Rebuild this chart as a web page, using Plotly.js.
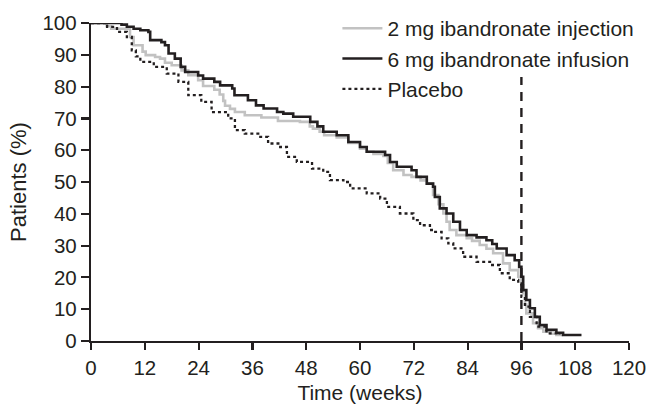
<!DOCTYPE html>
<html>
<head>
<meta charset="utf-8">
<script src="https://cdn.plot.ly/plotly-3.0.1.min.js"></script>
<style>html,body{margin:0;padding:0;background:#fff;}#chart{width:647px;height:407px;}</style>
</head>
<body>
<div id="chart"></div>
<script>
// ---- Data ----
const seriesNames = ["2 mg ibandronate injection", "6 mg ibandronate infusion", "Placebo"];

const weeks2mg = [0,3.5,4.5,8.7,9.5,11.5,12.2,14.3,15.4,16.5,18,20.2,21.7,23.9,25,27.5,28.7,29.5,29.9,31,32.1,34.3,38,41.7,46.6,48.8,49.5,51,52,54.8,57.4,60,61.5,63,65.2,66.2,67.4,69.7,71.5,73.5,74.9,76.3,77.5,78.6,79.3,80,81.5,83.8,85,86.7,88.2,89.7,91.9,93.4,95.3,96,96.4,96.8,97.1,98.6,99.7,100.9,102.5,103.8,105.3];
const pct2mg   = [100,99,98.2,95.6,93,91,89.9,89.3,88.8,87.5,86.7,85.1,83.6,82,80.2,79,77.5,75.5,74,73,72,71,70.3,69.2,68.9,67.5,66.8,65.8,64.7,64,62.3,60.5,59.5,58.8,58.2,56,53.7,52.2,51.6,50.5,49.5,45.9,43,40.1,37.5,34.9,33.3,32.3,31.5,30.2,29,27.6,24.4,22.3,20.2,17.5,15,11.5,8.7,5.6,4,2.9,2.3,1.9,1.9];

const weeks6mg = [0,6.8,8,9.5,11,12.8,13.2,15.7,16.5,17.3,18.7,20,21,23.9,25,27.5,28.8,31.5,32,35,36.8,38.5,41.5,42.9,45.1,48.9,50.5,51.8,54.8,57.4,60,61.5,65.6,66.7,68.2,71.5,72.6,74.9,76.3,76.7,77.8,79.3,80.8,82.3,83.8,86,88.2,89.5,90.5,92.7,94.5,95.5,96,96.4,97.1,97.9,99,100.1,101.6,103.8,105.3,109.4];
const pct6mg   = [100,99.5,98.8,98.2,97.7,97.2,94.6,94,93,90.4,88.8,86.2,84.6,83.5,82.5,81.5,80.4,79.4,77.3,75.7,74.1,73.1,72,71.5,70.5,68.9,67.5,65.8,64.7,62.6,61,59.5,58.5,56.3,54.8,53.7,51.6,49.5,48.5,45.3,41.7,40.1,37.5,34.9,33.3,32.6,31.7,30.5,29.1,27,25.4,23.3,20.2,16,12.9,10.3,7.6,5,3.5,2.6,1.9,1.9];

const weeksPlacebo = [0,3.6,5.8,8,9.1,10,11,14,16.9,19.5,21.7,24.6,26.9,30.6,32.1,34.3,37.3,39.5,42.2,43.7,45.9,49.3,51.8,53.3,56.3,57.8,61.5,64.5,66,68.9,71.9,73.4,75.6,76.3,78.2,79.7,80.8,83,86,89,91.2,93.4,95.3,96,96.8,97.9,99.4,101.6,104.5];
const pctPlacebo   = [100,98.8,97.2,95.6,91.4,89.5,87.8,86.2,84.1,81.5,77.3,75.2,72,70,66.3,65.2,64.2,62.1,61,57.9,56.3,54.2,53.2,50.6,50,48,46.4,44.8,42.2,40.1,38,36.4,34.9,34.3,32.3,30.7,29.1,26.5,24.9,23.9,21.3,19.2,18.1,13.9,10.8,7.6,4.5,2.4,1.9];

const xTicks = [0,12,24,36,48,60,72,84,96,108,120];
const yTicks = [0,10,20,30,40,50,60,70,80,90,100];
const refWeek = 96;      // dashed reference line
const refLineTop = 83;   // top of dashed line (%)

// ---- Plot ----
const FONT = '"Liberation Sans", Arial, Helvetica, sans-serif';
const INK = '#231f20';

const traces = [
  {x: weeks2mg, y: pct2mg, name: seriesNames[0], legendgroup: 'a', mode: 'lines',
   line: {shape: 'hv', color: '#c2c2c2', width: 2.6}},
  {x: weeks6mg, y: pct6mg, name: seriesNames[1], legendgroup: 'b', mode: 'lines',
   line: {shape: 'hv', color: INK, width: 2.6}},
  {x: weeksPlacebo, y: pctPlacebo, name: seriesNames[2], legendgroup: 'c', mode: 'lines',
   line: {shape: 'hv', color: INK, width: 2.3, dash: 'dot'}}
];

const layout = {
  width: 647, height: 407,
  margin: {l: 91, r: 18, t: 23, b: 66, autoexpand: false},
  paper_bgcolor: '#ffffff', plot_bgcolor: '#ffffff',
  font: {family: FONT, size: 20, color: INK},
  showlegend: true,
  legend: {x: 0.458, y: 1.047, xanchor: 'left', yanchor: 'top',
           bgcolor: 'rgba(0,0,0,0)', font: {family: FONT, size: 21, color: INK},
           tracegroupgap: 0, itemwidth: 40},
  xaxis: {range: [0, 120], tickvals: xTicks, ticktext: xTicks.map(String),
          showgrid: false, zeroline: false, showline: true, linecolor: INK, linewidth: 2.2,
          ticks: 'outside', ticklen: 7, tickwidth: 2.2, tickcolor: INK,
          tickfont: {family: FONT, size: 20.5, color: INK},
          title: {text: 'Time (weeks)', font: {family: FONT, size: 21, color: INK}, standoff: 8},
          fixedrange: true},
  yaxis: {range: [0, 100], tickvals: yTicks, ticktext: yTicks.map(String),
          showgrid: false, zeroline: false, showline: true, linecolor: INK, linewidth: 2.2,
          ticks: 'outside', ticklen: 8, tickwidth: 2.2, tickcolor: INK,
          tickfont: {family: FONT, size: 20.5, color: INK},
          title: {text: 'Patients (%)', font: {family: FONT, size: 22, color: INK}, standoff: 10},
          fixedrange: true},
  shapes: [{type: 'line', xref: 'x', yref: 'y', x0: refWeek, x1: refWeek, y0: 0, y1: refLineTop,
            line: {color: INK, width: 2.4, dash: '9px,7px'}}]
};

Plotly.newPlot('chart', traces, layout, {displayModeBar: false, staticPlot: true});
</script>
</body>
</html>
